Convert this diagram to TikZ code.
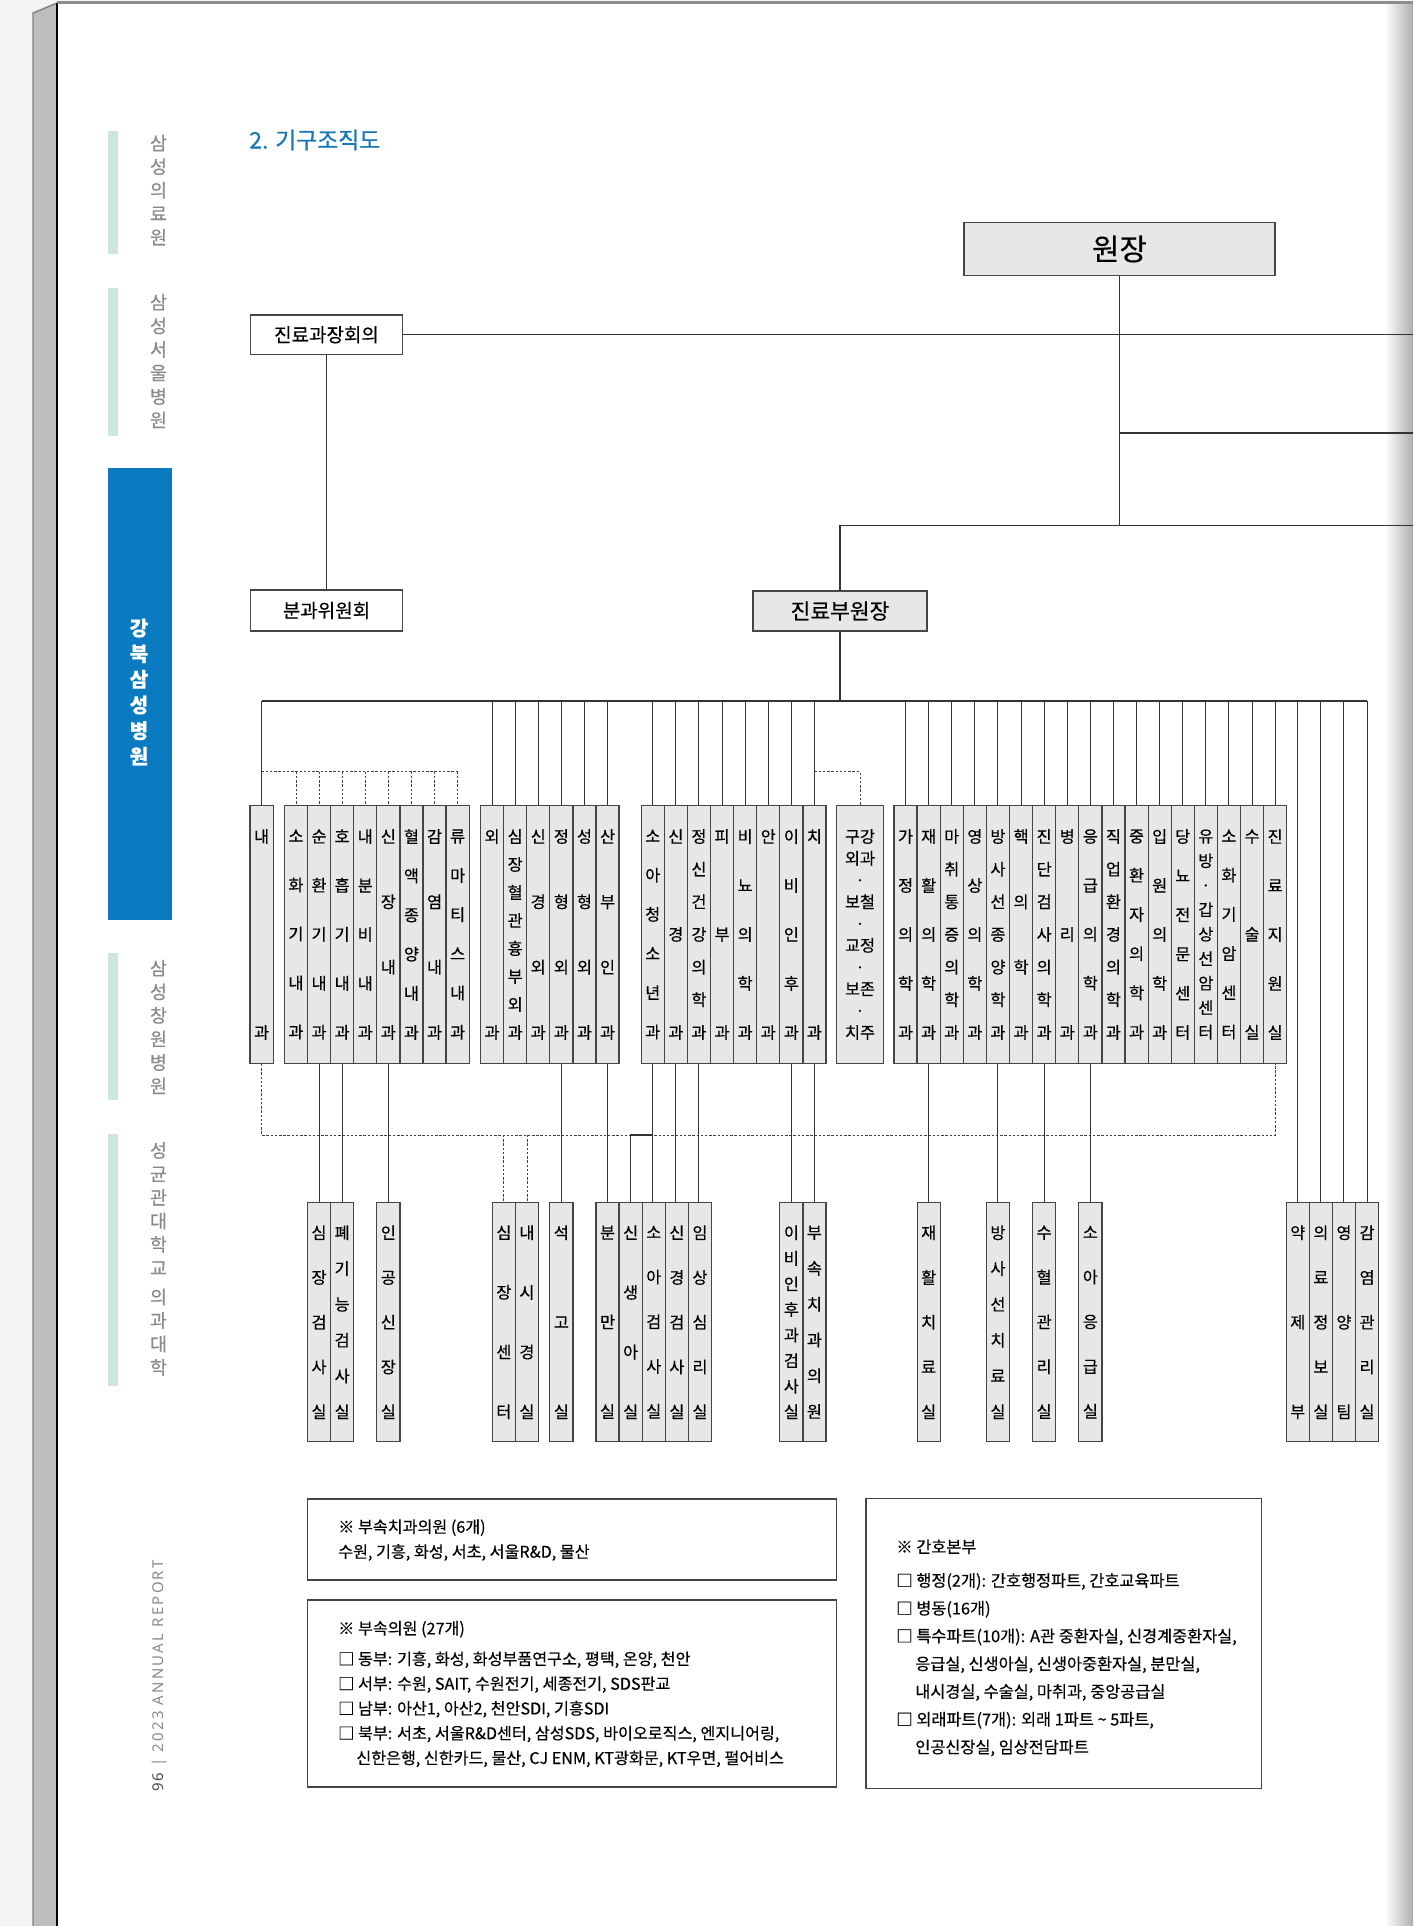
\documentclass[tikz,border=0pt]{standalone}
\usepackage{fontspec}
\setmainfont{Noto Sans CJK KR}[FakeBold=0.35]
\newfontfamily\reportfont[LetterSpace=15]{Noto Sans}
\newfontfamily\titlefont{Noto Sans CJK KR}[FakeBold=0.9]
\usepackage{tikz}
\usetikzlibrary{calc}
\definecolor{kbBlue}{HTML}{0B7BC1}
\definecolor{kbTitle}{HTML}{1A78B8}
\definecolor{kbMint}{HTML}{CDE7DE}
\definecolor{kbGray}{HTML}{E6E7E8}
\definecolor{kbLine}{HTML}{454545}
\definecolor{kbSide}{HTML}{8A8A8A}

\tikzset{
  conn/.style={draw=black!80, line width=0.6pt},
  dotconn/.style={draw=black!75, line width=0.5pt, dash pattern=on 1.4pt off 1pt},
  headbox/.style={draw=kbLine, line width=0.8pt, inner sep=0pt},
  colbox/.style={draw=kbLine, fill=kbGray, line width=0.7pt, inner sep=0pt, minimum width=0.462cm, align=center},
  toprow/.style={colbox, minimum height=5.152cm},
  botrow/.style={colbox, minimum height=4.78cm},
  rows/.code 2 args={\pgfmathsetmacro\rowskip{#1/(#2-1)}%
    \tikzset{font/.expanded={\noexpand\fontsize{9.3pt}{\rowskip pt}\noexpand\selectfont}}},
  notebox/.style={draw=kbLine, line width=0.7pt, inner sep=0pt},
  notetext/.style={anchor=north west, inner sep=0pt, align=left},
  sidetxt/.style={inner sep=0pt, align=center, text=kbSide, font=\fontsize{10.5pt}{13.4pt}\selectfont},
}

\begin{document}
\begin{tikzpicture}[x=0.02cm, y=-0.02cm]
\useasboundingbox (0,0) rectangle (1413,1926);
% page
\fill[black!4] (0,0) rectangle (1413,1926);
\fill[white] (57,3) rectangle (1413,1926);
\shade[left color=white, right color=black!32] (1385,3) rectangle (1413,1926);
\fill[black!26] (33,13) -- (57,3) -- (57,1926) -- (33,1926) -- cycle;
\draw[black!50, line width=0.8pt] (33,1926) -- (33,13) -- (57,3);
\draw[black, line width=0.8pt] (57,3) -- (57,1926);
\draw[black!45, line width=1.2pt] (57,2.5) -- (1413,2.5);

% side index
\fill[kbMint] (107.7,131.4) rectangle (118.3,254.3);
\fill[kbMint] (107.7,287.5) rectangle (118.3,436);
\fill[kbBlue] (107.7,468) rectangle (172.3,920);
\fill[kbMint] (107.7,953) rectangle (118.3,1099.5);
\fill[kbMint] (107.7,1134) rectangle (118.3,1385.7);
\node[sidetxt] (side1) at (158.5,190) {삼\\성\\의\\료\\원};
\node[sidetxt] (side2) at (158.5,361) {삼\\성\\서\\울\\병\\원};
\node[sidetxt, text=white, font=\bfseries\fontsize{11.5pt}{14.6pt}\selectfont] (side3) at (139,692) {강\\북\\삼\\성\\병\\원};
\node[sidetxt] (side4) at (158.5,1027) {삼\\성\\창\\원\\병\\원};
\node[sidetxt] (side5) at (158.5,1259) {성\\균\\관\\대\\학\\교\\[3pt]의\\과\\대\\학};
\node[rotate=90, inner sep=0pt, text=kbSide, font=\reportfont\fontsize{8.5pt}{10pt}\selectfont] (report) at (160,1676)
  {{\bfseries\color{black!70}96} | 2023 ANNUAL REPORT};

% title
\node[anchor=west, inner sep=0pt, text=kbTitle, font=\titlefont\fontsize{13pt}{15pt}\selectfont] (title) at (249,140) {2. 기구조직도};

% head
\node[headbox, fill=kbGray, minimum width=6.22cm, minimum height=1.06cm, font=\fontsize{17pt}{19pt}\selectfont] (won) at (1119.5,249) {원장};
\node[headbox, minimum width=3.05cm, minimum height=0.79cm, font=\fontsize{10.8pt}{12pt}\selectfont] (jg) at (326.5,334.8) {진료과장회의};
\node[headbox, minimum width=3.05cm, minimum height=0.82cm, font=\fontsize{10.8pt}{12pt}\selectfont] (bg) at (326.5,610.5) {분과위원회};
\node[headbox, fill=kbGray, minimum width=3.48cm, minimum height=0.8cm, font=\fontsize{12.2pt}{14pt}\selectfont] (bu) at (840,611) {진료부원장};

\coordinate (edge) at (1413,0);
\coordinate (mid) at (0,433);
\coordinate (low) at (0,525.4);
\coordinate (bus) at (0,701);
\coordinate (dup) at (0,771.7);
\coordinate (ddown) at (0,1135);

\draw[conn] (jg.east) -- (jg.east -| edge);
\draw[conn] (won.south) -- (won.south |- low);
\draw[conn] (won.south |- mid) -- (edge |- mid);
\draw[conn] (bu.north |- low) -- (edge |- low);
\draw[conn] (bu.north) -- (bu.north |- low);
\draw[conn] (jg.south) -- (jg.south |- bg.north);
\draw[conn] (bu.south) -- (bu.south |- bus);

% departments
\node[toprow, minimum width=0.466cm, rows={111.5}{2}] (nae) at (261.6,934.5) {내\\과};
\foreach \t/\n [count=\i from 0] in {소\\화\\기\\내\\과/5, 순\\환\\기\\내\\과/5, 호\\흡\\기\\내\\과/5,
    내\\분\\비\\내\\과/5, 신\\장\\내\\과/4, 혈\\액\\종\\양\\내\\과/6, 감\\염\\내\\과/4, 류\\마\\티\\스\\내\\과/6}
  \node[toprow, rows={111.5}{\n}] (im\i) at ({295.95+23.1*\i},934.5) {\t};
\foreach \t/\n [count=\i from 0] in {외\\과/2, 심\\장\\혈\\관\\흉\\부\\외\\과/8, 신\\경\\외\\과/4,
    정\\형\\외\\과/4, 성\\형\\외\\과/4, 산\\부\\인\\과/4}
  \node[toprow, rows={111.5}{\n}] (sg\i) at ({492.05+23.1*\i},934.5) {\t};
\foreach \t/\n [count=\i from 0] in {소\\아\\청\\소\\년\\과/6, 신\\경\\과/3, 정\\신\\건\\강\\의\\학\\과/7, 피\\부\\과/3,
    비\\뇨\\의\\학\\과/5, 안\\과/2, 이\\비\\인\\후\\과/5, 치\\과/2}
  \node[toprow, rows={111.5}{\n}] (sp\i) at ({652.75+23.1*\i},934.5) {\t};
\node[toprow, minimum width=0.93cm, rows={111.5}{10}] (dent) at (860,934.5) {구강\\외과\\·\\보철\\·\\교정\\·\\보존\\·\\치주};
\foreach \t/\n [count=\i from 0] in {가\\정\\의\\학\\과/5, 재\\활\\의\\학\\과/5, 마\\취\\통\\증\\의\\학\\과/7,
    영\\상\\의\\학\\과/5, 방\\사\\선\\종\\양\\학\\과/7, 핵\\의\\학\\과/4, 진\\단\\검\\사\\의\\학\\과/7, 병\\리\\과/3,
    응\\급\\의\\학\\과/5, 직\\업\\환\\경\\의\\학\\과/7, 중\\환\\자\\의\\학\\과/6, 입\\원\\의\\학\\과/5,
    당\\뇨\\전\\문\\센\\터/6, 유\\방\\·\\갑\\상\\선\\암\\센\\터/9, 소\\화\\기\\암\\센\\터/6, 수\\술\\실/3, 진\\료\\지\\원\\실/5}
  \node[toprow, rows={111.5}{\n}] (ct\i) at ({905.55+23.1*\i},934.5) {\t};

% units
\node[botrow, rows={101.9}{5}] (hc) at (319.05,1322.2) {심\\장\\검\\사\\실};
\node[botrow, rows={101.9}{6}] (pf) at (342.15,1322.2) {폐\\기\\능\\검\\사\\실};
\node[botrow, rows={101.9}{5}] (hd) at (388.35,1322.2) {인\\공\\신\\장\\실};
\node[botrow, rows={101.9}{4}] (cc) at (503.85,1322.2) {심\\장\\센\\터};
\node[botrow, rows={101.9}{4}] (en) at (526.95,1322.2) {내\\시\\경\\실};
\node[botrow, rows={101.9}{3}] (cast) at (561.35,1322.2) {석\\고\\실};
\node[botrow, rows={101.9}{3}] (dr) at (607.55,1322.2) {분\\만\\실};
\node[botrow, rows={101.9}{4}] (nb) at (630.65,1322.2) {신\\생\\아\\실};
\node[botrow, rows={101.9}{5}] (pt) at (653.75,1322.2) {소\\아\\검\\사\\실};
\node[botrow, rows={101.9}{5}] (nt) at (676.85,1322.2) {신\\경\\검\\사\\실};
\node[botrow, rows={101.9}{5}] (cp) at (699.95,1322.2) {임\\상\\심\\리\\실};
\node[botrow, rows={101.9}{8}] (ent) at (791.35,1322.2) {이\\비\\인\\후\\과\\검\\사\\실};
\node[botrow, rows={101.9}{6}] (dc) at (814.45,1322.2) {부\\속\\치\\과\\의\\원};
\node[botrow, rows={101.9}{5}] (rh) at (928.65,1322.2) {재\\활\\치\\료\\실};
\node[botrow, rows={101.9}{6}] (rt) at (997.95,1322.2) {방\\사\\선\\치\\료\\실};
\node[botrow, rows={101.9}{5}] (bt) at (1044.15,1322.2) {수\\혈\\관\\리\\실};
\node[botrow, rows={101.9}{5}] (pe) at (1090.35,1322.2) {소\\아\\응\\급\\실};
\node[botrow, rows={101.9}{3}] (ph) at (1297.75,1322.2) {약\\제\\부};
\node[botrow, rows={101.9}{5}] (mi) at (1320.85,1322.2) {의\\료\\정\\보\\실};
\node[botrow, rows={101.9}{3}] (nu) at (1343.95,1322.2) {영\\양\\팀};
\node[botrow, rows={101.9}{5}] (ic) at (1367.05,1322.2) {감\\염\\관\\리\\실};

% bus and drops
\draw[conn] (nae.north |- bus) -- (ic.north |- bus);
\foreach \c in {nae,sg0,sg1,sg2,sg3,sg4,sg5,sp0,sp1,sp2,sp3,sp4,sp5,sp6,sp7,ph,mi,nu,ic}
  \draw[conn] (\c.north |- bus) -- (\c.north);
\foreach \i in {0,...,16}
  \draw[conn] (ct\i.north |- bus) -- (ct\i.north);
\draw[dotconn] (nae.north |- dup) -- (im7.north |- dup);
\foreach \i in {0,...,7}
  \draw[dotconn] (im\i.north |- dup) -- (im\i.north);
\draw[dotconn] (sp7.north |- dup) -- (dent.north |- dup) -- (dent.north);
\draw[dotconn] (nae.south) -- (nae.south |- ddown) -- (ct16.south |- ddown) -- (ct16.south);
\draw[dotconn] (cc.north |- ddown) -- (cc.north);
\draw[dotconn] (en.north |- ddown) -- (en.north);
\foreach \p/\c in {im1/hc, im2/pf, im4/hd, sg3/cast, sg5/dr, sp0/pt, sp1/nt, sp2/cp, sp6/ent, sp7/dc, ct1/rh, ct4/rt, ct6/bt, ct8/pe}
  \draw[conn] (\p.south) -- (\p.south |- \c.north);
\draw[conn] (sp0.south |- ddown) -- (nb.north |- ddown) -- (nb.north);

% notes
\node[notebox, minimum width=10.58cm, minimum height=1.62cm] (dentnote) at (572.2,1539.5) {};
\node[notetext, font=\fontsize{9.2pt}{14.2pt}\selectfont] (dentlist) at (337.9,1519)
  {※ 부속치과의원 (6개)\\
   수원, 기흥, 화성, 서초, 서울R\&D, 물산};
\node[notebox, minimum width=10.58cm, minimum height=3.74cm] (clinnote) at (572.2,1693.5) {};
\node[notetext, font=\fontsize{9.2pt}{14.1pt}\selectfont] (clinlist) at (337.9,1620.6)
  {※ 부속의원 (27개)\\[3.3pt]
   □ 동부: 기흥, 화성, 화성부품연구소, 평택, 온양, 천안\\
   □ 서부: 수원, SAIT, 수원전기, 세종전기, SDS판교\\
   □ 남부: 아산1, 아산2, 천안SDI, 기흥SDI\\
   □ 북부: 서초, 서울R\&D센터, 삼성SDS, 바이오로직스, 엔지니어링,\\
   \hspace*{10.3pt}신한은행, 신한카드, 물산, CJ ENM, KT광화문, KT우면, 펄어비스};
\node[notebox, minimum width=7.91cm, minimum height=5.8cm] (nursenote) at (1063.8,1643.3) {};
\node[notetext, font=\fontsize{9.3pt}{15.8pt}\selectfont] (nurselist) at (896,1539)
  {※ 간호본부\\[3.4pt]
   □ 행정(2개): 간호행정파트, 간호교육파트\\
   □ 병동(16개)\\
   □ 특수파트(10개): A관 중환자실, 신경계중환자실,\\
   \hspace*{10.8pt}응급실, 신생아실, 신생아중환자실, 분만실,\\
   \hspace*{10.8pt}내시경실, 수술실, 마취과, 중앙공급실\\
   □ 외래파트(7개): 외래 1파트 \textasciitilde{} 5파트,\\
   \hspace*{10.8pt}인공신장실, 임상전담파트};
\end{tikzpicture}
\end{document}
